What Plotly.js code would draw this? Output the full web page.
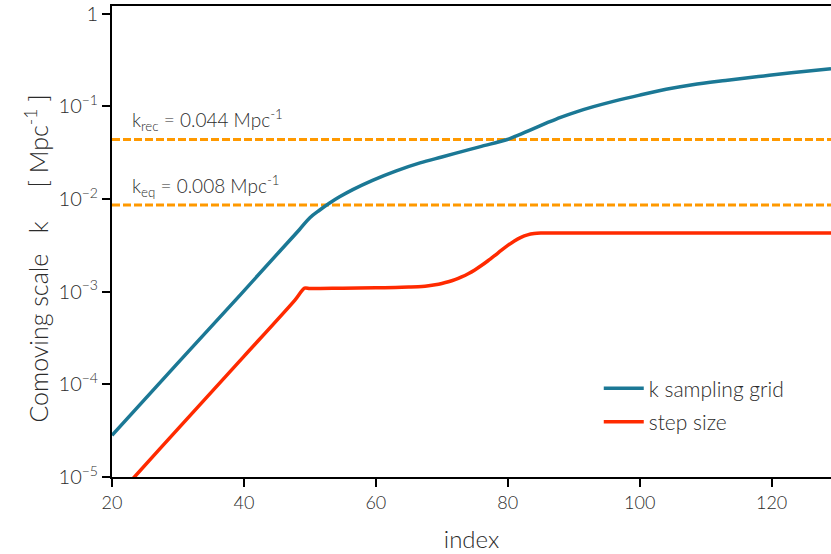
<!DOCTYPE html>
<html>
<head>
<meta charset="utf-8">
<script src="https://cdn.plot.ly/plotly-3.0.1.min.js"></script>
<style>html,body{margin:0;padding:0;background:#fff;}#chart{width:831px;height:554px;}</style>
</head>
<body>
<div id="chart"></div>
<script>
// ---- data ----
const gridIndex = [20, 30, 39, 45.4, 48.4, 50, 51.5, 53, 54.5, 56.5, 59.5, 63, 66.7, 70, 73, 76, 79.8, 81.5, 83.3, 85.9, 88, 90.3, 93, 96, 100, 104, 108, 113, 118, 123, 129];
const gridK = [2.82e-5, 1.70e-4, 8.51e-4, 2.71e-3, 4.65e-3, 6.27e-3, 7.59e-3, 9.02e-3, 1.052e-2, 1.259e-2, 1.585e-2, 1.995e-2, 2.443e-2, 2.831e-2, 3.236e-2, 3.690e-2, 4.345e-2, 4.842e-2, 5.495e-2, 6.592e-2, 7.586e-2, 8.650e-2, 9.886e-2, 0.1127, 0.1318, 0.1521, 0.1706, 0.1897, 0.2089, 0.2291, 0.2529];

const stepIndex = [20, 23.4, 30, 40, 47.7, 49.2, 50, 55, 60, 63, 65, 67, 68, 69, 70, 71, 72, 73, 74, 75, 76, 77, 78, 79, 80, 81, 82, 83, 84, 85, 86, 90, 100, 110, 120, 129];
const stepSize = [5.41e-6, 1.0e-5, 3.31e-5, 2.00e-4, 8.05e-4, 1.09e-3, 1.08e-3, 1.09e-3, 1.10e-3, 1.107e-3, 1.119e-3, 1.135e-3, 1.156e-3, 1.186e-3, 1.225e-3, 1.276e-3, 1.346e-3, 1.439e-3, 1.560e-3, 1.714e-3, 1.910e-3, 2.153e-3, 2.443e-3, 2.780e-3, 3.148e-3, 3.516e-3, 3.846e-3, 4.093e-3, 4.227e-3, 4.276e-3, 4.285e-3, 4.29e-3, 4.29e-3, 4.29e-3, 4.29e-3, 4.29e-3];

const kRec = 0.0438;
const kEq = 0.0086;
const kRecLabel = 'k<sub>rec</sub> = 0.044 Mpc<sup>-1</sup>';
const kEqLabel = 'k<sub>eq</sub> = 0.008 Mpc<sup>-1</sup>';

const seriesNames = ['k sampling grid', 'step size'];
const yTickVals = [1e-5, 1e-4, 1e-3, 1e-2, 1e-1, 1];
const yTickText = ['10<sup>\u22125</sup>', '10<sup>\u22124</sup>', '10<sup>\u22123</sup>', '10<sup>\u22122</sup>', '10<sup>\u22121</sup>', '1'];
const xTickVals = [20, 40, 60, 80, 100, 120];
const xRange = [20, 129];
const yTitle = 'Comoving scale&nbsp;&nbsp;&nbsp;k&nbsp;&nbsp;&nbsp;&nbsp;&nbsp;[ Mpc<sup>-1</sup> ]&nbsp;&nbsp;&nbsp;&nbsp;&nbsp;';

// ---- styles ----
const FONT = 'Lato, "Open Sans", sans-serif';
const TXT = '#2b2b2b';
const BLUE = '#1b7895';
const RED = '#ff2a00';
const ORANGE = '#ff9900';

const traces = [
  {x: xRange, y: [kRec, kRec], mode: 'lines', line: {color: ORANGE, width: 3, dash: '8px,3px'}, showlegend: false, hoverinfo: 'skip'},
  {x: xRange, y: [kEq, kEq], mode: 'lines', line: {color: ORANGE, width: 3, dash: '8px,3px'}, showlegend: false, hoverinfo: 'skip'},
  {x: gridIndex, y: gridK, name: seriesNames[0], legendgroup: 'a', mode: 'lines', line: {color: BLUE, width: 3.5, shape: 'spline', smoothing: 1}},
  {x: stepIndex, y: stepSize, name: seriesNames[1], legendgroup: 'b', mode: 'lines', line: {color: RED, width: 3.5, shape: 'spline', smoothing: 0.8}}
];

const layout = {
  width: 831, height: 554,
  margin: {l: 112, r: 0, t: 6, b: 77},
  paper_bgcolor: '#fff', plot_bgcolor: '#fff',
  font: {family: FONT, color: TXT, size: 18, weight: 300},
  showlegend: true,
  legend: {x: 0.677, y: 0.231, xanchor: 'left', yanchor: 'top', bgcolor: 'rgba(0,0,0,0)',
           font: {size: 21, color: TXT, weight: 300}, itemwidth: 40, traceorder: 'grouped', tracegroupgap: 3},
  xaxis: {
    range: xRange, tickvals: xTickVals, showgrid: false, zeroline: false,
    showline: true, linecolor: '#000', linewidth: 2, mirror: true,
    ticks: 'outside', ticklen: 8, tickwidth: 2, tickcolor: '#000',
    tickfont: {size: 18, color: TXT, weight: 300},
    title: {text: 'index', font: {size: 24, color: TXT, weight: 300}, standoff: 20}
  },
  yaxis: {
    type: 'log', range: [-5, 0.081], tickvals: yTickVals, ticktext: yTickText,
    showgrid: false, zeroline: false,
    showline: true, linecolor: '#000', linewidth: 2, mirror: false,
    ticks: 'outside', ticklen: 8, tickwidth: 2, tickcolor: '#000',
    tickfont: {size: 20, color: TXT, weight: 300},
    title: {text: yTitle, font: {size: 25, color: TXT, weight: 300}, standoff: 3}
  },
  annotations: [
    {xref: 'paper', yref: 'y', x: 0.025, y: Math.log10(kRec), xanchor: 'left', yanchor: 'bottom', yshift: 3, text: kRecLabel, showarrow: false, font: {size: 19, color: TXT, weight: 300}},
    {xref: 'paper', yref: 'y', x: 0.025, y: Math.log10(kEq), xanchor: 'left', yanchor: 'bottom', yshift: 3, text: kEqLabel, showarrow: false, font: {size: 19, color: TXT, weight: 300}}
  ]
};

Plotly.newPlot('chart', traces, layout, {staticPlot: true, displayModeBar: false});
</script>
</body>
</html>
